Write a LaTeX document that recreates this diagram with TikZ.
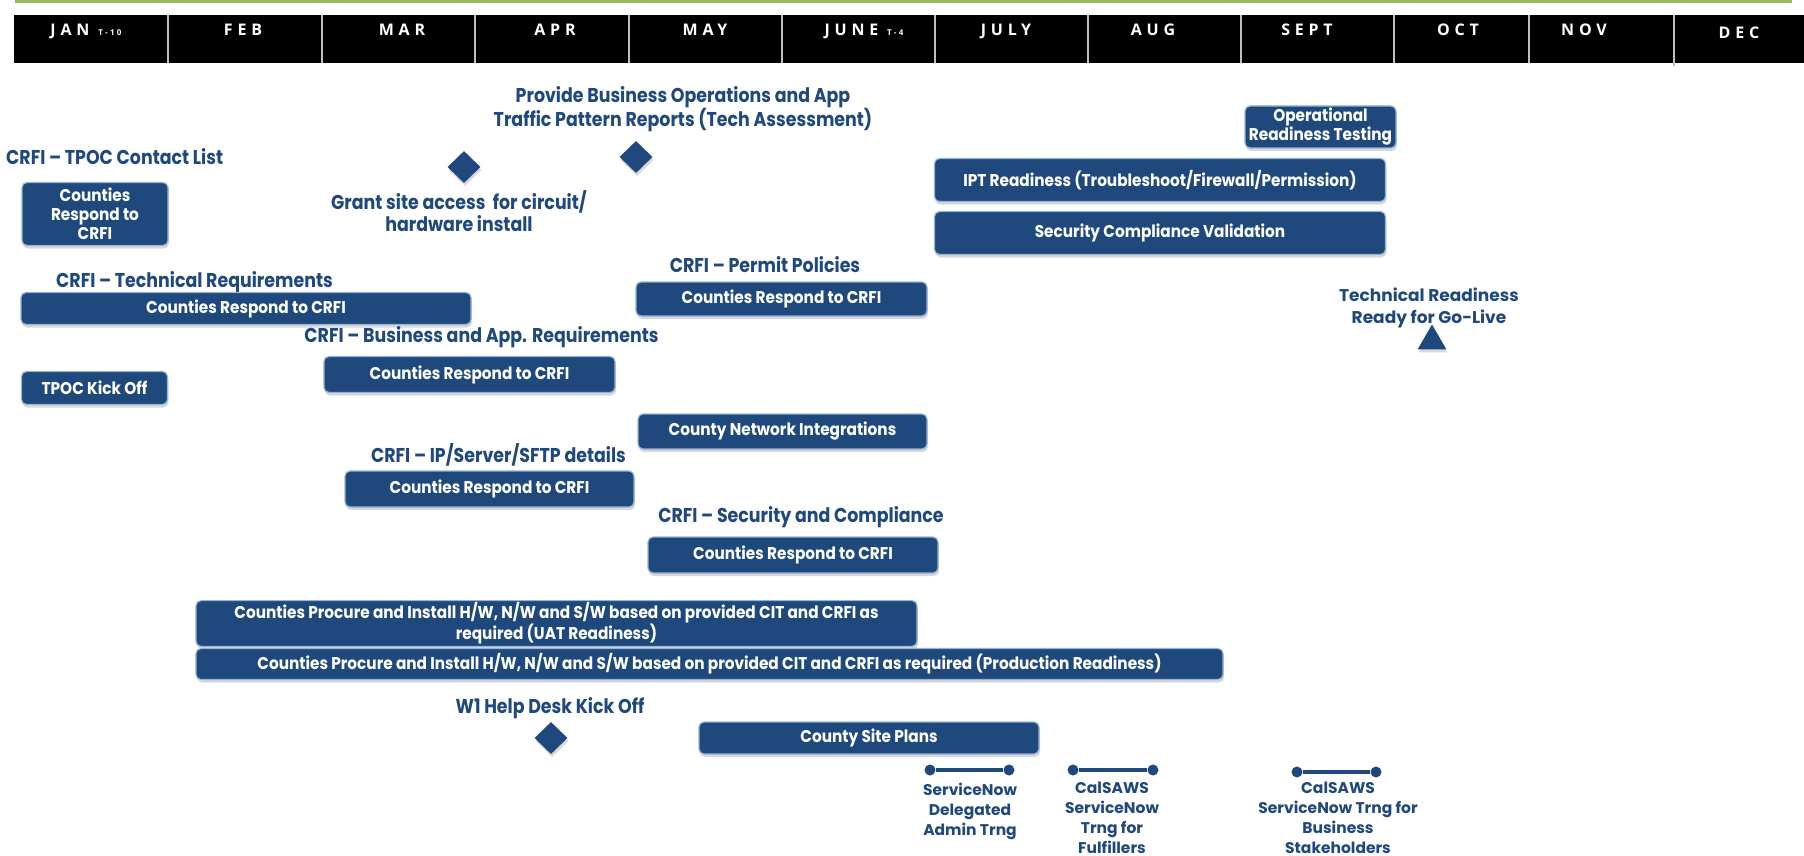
\documentclass[tikz,border=0pt]{standalone}
\usepackage{fontspec}
\setmainfont{Poppins}
\newfontfamily\narrowfont[FakeStretch=0.87]{Poppins}
\newfontfamily\boxfont[FakeStretch=0.9]{Poppins}
\newfontfamily\headfont[LetterSpace=30]{Open Sans}
\usetikzlibrary{shapes.geometric,shadows}
\definecolor{navy}{RGB}{31,73,125}
\definecolor{edgeblue}{RGB}{149,179,215}
\definecolor{topgreen}{RGB}{155,187,89}
\definecolor{divgray}{RGB}{191,191,191}

\begin{document}
\begin{tikzpicture}[x=1pt,y=-1pt]
\tikzset{
    task/.style={%
        fill=navy, draw=edgeblue, line width=1.2pt,
        rectangle,
        rounded corners=5pt,
        text=white, align=center, inner sep=2pt,
        font=\boxfont\bfseries\fontsize{17}{19}\selectfont,
        drop shadow={shadow xshift=1pt, shadow yshift=-3pt, opacity=0.3}
        },
    lbl/.style={%
        text=navy, align=center, inner sep=0pt,
        font=\narrowfont\bfseries\fontsize{20}{22}\selectfont
        },
    gothic/.style={%
        text=navy, align=center, inner sep=0pt,
        font=\bfseries\fontsize{15.5}{20}\selectfont
        },
    milestone/.style={%
        diamond, fill=navy, inner sep=0pt,
        minimum width=33pt, minimum height=32pt,
        drop shadow={shadow xshift=1pt, shadow yshift=-3pt, opacity=0.3}
        },
    golive/.style={%
        regular polygon, regular polygon sides=3, fill=navy, inner sep=0pt,
        minimum size=33pt,
        drop shadow={shadow xshift=1pt, shadow yshift=-3pt, opacity=0.3}
        },
    dot/.style={circle, fill=navy, minimum size=11pt, inner sep=0pt},
    bar/.style={navy, line width=4pt},
    month/.style={text=white, anchor=base, inner sep=0pt,
        font=\headfont\bfseries\fontsize{16}{18}\selectfont},
    divider/.style={divgray, line width=2pt},
}
\useasboundingbox (0,0) rectangle (1804,856);
\fill[white] (0,0) rectangle (1804,856);
%%%HEADER
\fill[topgreen] (15,0) rectangle (1792,3.5);
\fill[black] (14,15) rectangle (1804,63);
\draw[divider] (168,15) -- (168,63);
\draw[divider] (322,15) -- (322,63);
\draw[divider] (475,15) -- (475,63);
\draw[divider] (629,15) -- (629,63);
\draw[divider] (782,15) -- (782,63);
\draw[divider] (935,15) -- (935,63);
\draw[divider] (1088,15) -- (1088,63);
\draw[divider] (1241,15) -- (1241,63);
\draw[divider] (1394,15) -- (1394,63);
\draw[divider] (1529,15) -- (1529,63);
\draw[divider] (1674,15) -- (1674,66);
\node[month] (jan) at (86,36) {JAN \fontsize{8}{9}\selectfont T-10};
\node[month] (feb) at (243,36) {FEB};
\node[month] (mar) at (402,36) {MAR};
\node[month] (apr) at (555,36) {APR};
\node[month] (may) at (705,36) {MAY};
\node[month] (jun) at (864,36) {JUNE \fontsize{8}{9}\selectfont T-4};
\node[month] (jul) at (1006,36) {JULY};
\node[month] (aug) at (1153,36) {AUG};
\node[month] (sep) at (1307,36) {SEPT};
\node[month] (oct) at (1458,36) {OCT};
\node[month] (nov) at (1584,36) {NOV};
\node[month] (dec) at (1739,39) {DEC};
%%%MILESTONES
\node[lbl] (provl) at (683,109) {Provide Business Operations and App\\Traffic Pattern Reports (Tech Assessment)};
\node[milestone] (provm) at (636,157) {};
\node[milestone] (grantm) at (464,167) {};
\node[lbl] (grantl) at (459,211) {Grant site access\ \ for circuit/\\hardware install};
\node[lbl] (w1l) at (550,708) {W1 Help Desk Kick Off};
\node[milestone] (w1m) at (551,738) {};
\node[gothic, font=\bfseries\fontsize{17}{22}\selectfont] (readyl) at (1429,308) {Technical Readiness\\Ready for Go-Live};
\node[golive] (readym) at (1432,341) {};
%%%CRFI
\node[lbl, anchor=west] (tpocl) at (6,157) {CRFI – TPOC Contact List};
\node[task, minimum width=146pt, minimum height=63pt] (tpocresp) at (95,214) {Counties\\Respond to\\CRFI};
\node[lbl] (techl) at (194.5,282) {CRFI – Technical Requirements};
\node[task, minimum width=450pt, minimum height=32pt] (techresp) at (246,308.5) {Counties Respond to CRFI};
\node[lbl] (perml) at (765,265) {CRFI – Permit Policies};
\node[task, minimum width=291pt, minimum height=34pt] (permresp) at (781.5,299) {Counties Respond to CRFI};
\node[lbl] (busl) at (481.5,337) {CRFI – Business and App. Requirements};
\node[task, minimum width=291pt, minimum height=36pt] (busresp) at (469.5,374.5) {Counties Respond to CRFI};
\node[task, minimum width=146pt, minimum height=33pt] (kickoff) at (94.5,388) {TPOC Kick Off};
\node[task, minimum width=289pt, minimum height=35pt] (netint) at (782.5,431.5) {County Network Integrations};
\node[lbl] (ipl) at (498.5,455) {CRFI – IP/Server/SFTP details};
\node[task, minimum width=289pt, minimum height=36pt] (ipresp) at (489.5,489) {Counties Respond to CRFI};
\node[lbl] (secl) at (801,517) {CRFI – Security and Compliance};
\node[task, minimum width=290pt, minimum height=36pt] (secresp) at (793,555) {Counties Respond to CRFI};
%%%READINESS
\node[task, minimum width=151pt, minimum height=42pt] (ort) at (1320.5,127) {Operational\\Readiness Testing};
\node[task, minimum width=451pt, minimum height=43pt] (ipt) at (1160,180) {IPT Readiness (Troubleshoot/Firewall/Permission)};
\node[task, minimum width=451pt, minimum height=43pt] (scv) at (1160,233) {Security Compliance Validation};
\node[task, minimum width=721pt, minimum height=37pt] (uat) at (556.5,623.5) {Counties Procure and Install H/W, N/W and S/W based on provided CIT and CRFI as\\required (UAT Readiness)};
\node[task, minimum width=1027pt, minimum height=31pt] (prod) at (709.5,664) {Counties Procure and Install H/W, N/W and S/W based on provided CIT and CRFI as required (Production Readiness)};
\node[task, minimum width=340pt, minimum height=32pt] (siteplans) at (869,738) {County Site Plans};
%%%TRAINING
\node[dot] (sna) at (930,770) {};
\node[dot] (snb) at (1009,770) {};
\draw[bar] (sna) -- (snb);
\node[gothic] (snl) at (970,811) {ServiceNow\\Delegated\\Admin Trng};
\node[dot] (ffa) at (1073,770) {};
\node[dot] (ffb) at (1153,770) {};
\draw[bar] (ffa) -- (ffb);
\node[gothic] (ffl) at (1112,818) {CalSAWS\\ServiceNow\\Trng for\\Fulfillers};
\node[dot] (bsa) at (1297,772) {};
\node[dot] (bsb) at (1376,772) {};
\draw[bar] (bsa) -- (bsb);
\node[gothic] (bsl) at (1338,818) {CalSAWS\\ServiceNow Trng for\\Business\\Stakeholders};
\end{tikzpicture}
\end{document}
